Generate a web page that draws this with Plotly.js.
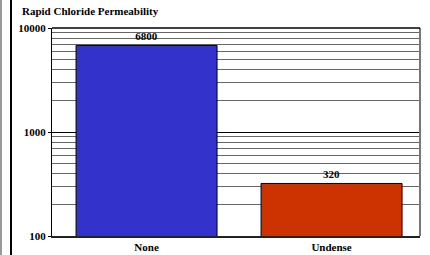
<!DOCTYPE html>
<html>
<head>
<meta charset="utf-8">
<script src="https://cdn.plot.ly/plotly-3.0.1.min.js"></script>
<style>html,body{margin:0;padding:0;background:#fff;}#chart{width:430px;height:255px;}</style>
</head>
<body>
<div id="chart"></div>
<script>
const categories = ["None", "Undense"];
const values = [6800, 320];
const barColors = ["#3333CC", "#CC3300"];
const minorTicks = [200,300,400,500,600,700,800,900,2000,3000,4000,5000,6000,7000,8000,9000];
const majorTicks = [100, 1000, 10000];
const majorLabels = ["100", "1000", "10000"];
const chartTitle = "Rapid Chloride Permeability";

const F = {family: "Liberation Serif, Times New Roman, serif", size: 11, color: "#000", weight: "bold"};

const trace = {
  type: "bar",
  x: categories,
  y: values,
  width: 0.762,
  marker: {color: barColors, line: {color: "#000", width: 1}},
  text: values.map(String),
  textposition: "outside",
  textfont: F,
  cliponaxis: false,
  hoverinfo: "none"
};

const layout = {
  width: 430, height: 255,
  margin: {l: 52, r: 10, t: 28, b: 19, pad: 0},
  paper_bgcolor: "#fff", plot_bgcolor: "#fff",
  showlegend: false,
  bargap: 0.238,
  title: {text: chartTitle, font: F, x: 22/430, xanchor: "left", y: 1 - 11/255, yanchor: "middle"},
  xaxis: {
    range: [-0.511, 1.478],
    showline: true, linecolor: "#222", linewidth: 1.5,
    ticks: "", tickfont: F, showgrid: false, zeroline: false, fixedrange: true
  },
  yaxis: {
    type: "log", range: [2, 4],
    tickvals: minorTicks, showticklabels: false, ticks: "",
    showgrid: true, gridcolor: "#666", gridwidth: 1,
    showline: true, linecolor: "#000", linewidth: 1.5,
    zeroline: false, fixedrange: true
  },
  yaxis2: {
    type: "log", range: [2, 4], overlaying: "y", side: "left",
    tickvals: majorTicks, ticktext: majorLabels, tickfont: F,
    ticks: "outside", ticklen: 3, tickcolor: "#000",
    showgrid: true, gridcolor: "#000", gridwidth: 1,
    showline: false, zeroline: false, fixedrange: true
  },
  shapes: [
    {type: "line", xref: "paper", yref: "paper", x0: 1, x1: 1, y0: 0, y1: 1, line: {color: "#777", width: 2}},
    {type: "line", xref: "paper", yref: "paper", x0: 0, x1: 1, y0: 1, y1: 1, line: {color: "#000", width: 1.5}},
    {type: "line", xref: "paper", yref: "paper", x0: (11 - 52)/368, x1: (11 - 52)/368, y0: -0.2, y1: 1.2, line: {color: "#000", width: 2}},
    {type: "line", xref: "paper", yref: "paper", x0: (1 - 52)/368, x1: (1 - 52)/368, y0: -0.2, y1: 1.2, line: {color: "#999", width: 2}}
  ]
};

const trace2 = {type: "scatter", x: [], y: [], yaxis: "y2", hoverinfo: "none"};

Plotly.newPlot("chart", [trace, trace2], layout, {displayModeBar: false, staticPlot: true});
</script>
</body>
</html>
